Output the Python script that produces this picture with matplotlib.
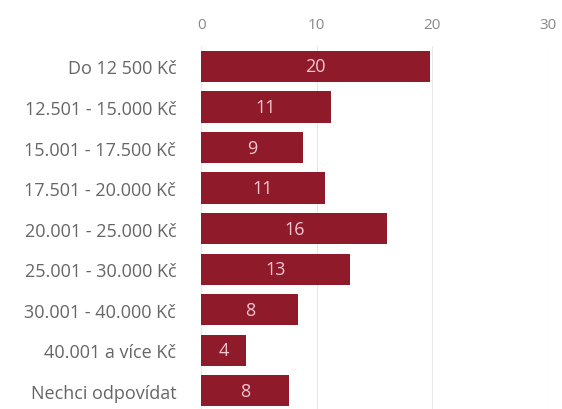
import matplotlib.pyplot as plt
import numpy as np

plt.rcParams['font.family'] = ['Open Sans', 'DejaVu Sans']

categories = ["Do 12 500 Kč", "12.501 - 15.000 Kč", "15.001 - 17.500 Kč",
              "17.501 - 20.000 Kč", "20.001 - 25.000 Kč", "25.001 - 30.000 Kč",
              "30.001 - 40.000 Kč", "40.001 a více Kč", "Nechci odpovídat"]
values = [19.8, 11.2, 8.8, 10.7, 16.1, 12.9, 8.4, 3.9, 7.6]
ticks = [0, 10, 20, 30]

bar_color = "#8e1a2a"

fig = plt.figure(figsize=(5.62, 4.10), dpi=100)
ax = fig.add_axes([0.358, -0.005, 0.617, 0.89])

y = np.arange(len(categories))
ax.barh(y, values, height=0.77, color=bar_color, zorder=3)
for yi, v in zip(y, values):
    ax.text(v / 2, yi, "%.0f" % v, ha="center", va="center",
            color="#f2c6d0", fontsize=13, zorder=4)

ax.set_yticks(y)
ax.set_yticklabels(categories, fontsize=13, color="#666666")
ax.set_ylim(len(categories) - 0.5, -0.5)
ax.set_xlim(0, 30)
ax.set_xticks(ticks)
ax.xaxis.tick_top()
ax.tick_params(axis="x", labelsize=11, colors="#888888", length=0, pad=10)
ax.tick_params(axis="y", length=0, pad=18)
ax.grid(axis="x", color="#e8e8e8", linewidth=0.8, zorder=0)
for s in ax.spines.values():
    s.set_visible(False)

fig.savefig("out.png", dpi=100)
